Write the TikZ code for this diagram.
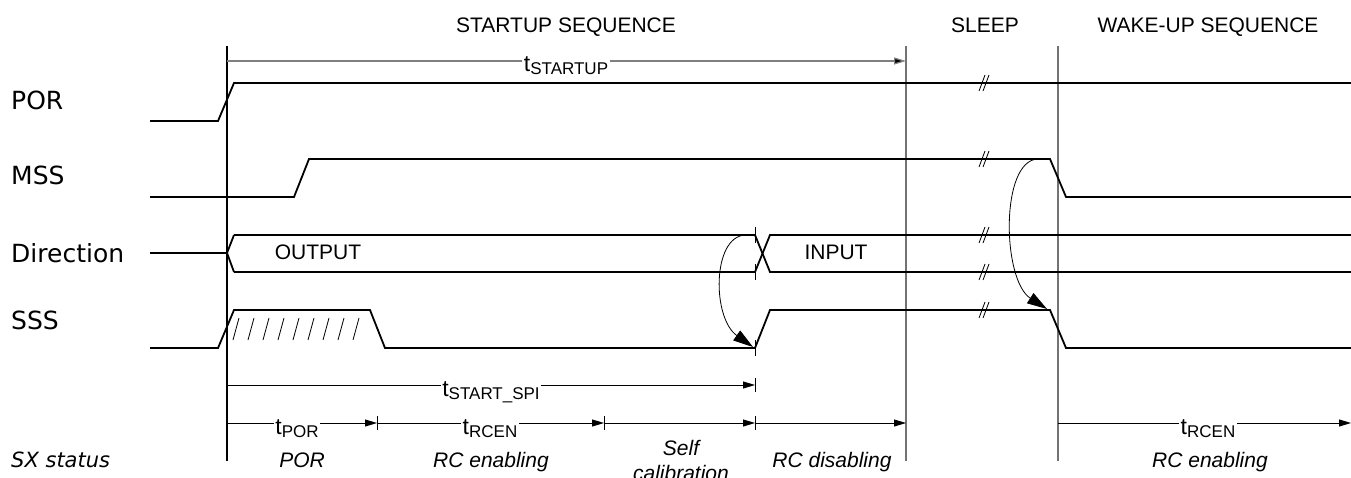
\documentclass[tikz,border=0pt]{standalone}
\usepackage{fontspec}
\setmainfont{Liberation Sans}
\newfontfamily\dvfont{DejaVu Sans}
\usetikzlibrary{arrows.meta}
\newcommand{\tlab}[1]{{\fontsize{23}{23}\selectfont t}\raisebox{-3pt}{\fontsize{17}{17}\selectfont #1}}
\begin{document}
\begin{tikzpicture}[x=1pt,y=-1pt,
  sig/.style={line width=1.8pt, line join=miter},
  marker/.style={line width=1.5pt, draw=gray!90!black},
  vmark/.style={line width=1.5pt, draw=black},
  dim/.style={line width=0.9pt, -{Triangle[length=12pt,width=7pt]}},
  graydim/.style={line width=1.2pt, draw=gray, -{Triangle[length=12pt,width=7pt,fill=black]}},
  tickm/.style={line width=0.9pt},
  brkm/.style={line width=0.8pt},
  curvarrow/.style={line width=0.8pt, -{Triangle[length=20pt,width=12pt]}},
  siglab/.style={anchor=base west, font=\dvfont\fontsize{25}{30}\selectfont, inner sep=0pt},
  head/.style={anchor=base, font=\fontsize{21}{25}\selectfont, inner sep=0pt},
  buslab/.style={anchor=base, font=\fontsize{21}{25}\selectfont, inner sep=0pt},
  stat/.style={anchor=base, font=\itshape\fontsize{21}{25}\selectfont, inner sep=0pt},
  tl/.style={anchor=base, fill=white, inner sep=1.5pt}
]
\useasboundingbox (0,0) rectangle (1351,478);

% headings
\node[head] (hstart) at (566,33) {STARTUP SEQUENCE};
\node[head] (hsleep) at (985,33) {SLEEP};
\node[head] (hwake) at (1208,33) {WAKE-UP SEQUENCE};

% signal labels
\node[siglab] (lpor) at (11,110) {POR};
\node[siglab] (lmss) at (11,185) {MSS};
\node[siglab] (ldir) at (11,262) {Direction};
\node[siglab] (lsss) at (11,329) {SSS};
\node[anchor=base west, font=\dvfont\itshape\fontsize{21}{25}\selectfont, inner sep=0pt] (lsx) at (11,467) {SX status};

% vertical markers
\draw[vmark] (227,46) -- (227,461);
\draw[marker] (906,46) -- (906,461);
\draw[marker] (1058,46) -- (1058,461);

% t_STARTUP
\coordinate (s0) at (227,61);
\coordinate (s1) at (906,61);
\draw[graydim] (s0) -- (s1);
\node[tl] (tstartup) at (566,72) {\tlab{STARTUP}};

% POR
\draw[sig] (150,121) -- (218,121) -- (234,83) -- (1351,83);
% MSS
\draw[sig] (150,197) -- (294,197) -- (309,159) -- (1050,159) -- (1066,197) -- (1351,197);
% Direction
\draw[sig] (150,253) -- (227,253);
\draw[sig] (234,235) -- (227,253) -- (234,272);
\draw[sig] (234,235) -- (755,235) -- (770,272) -- (1351,272);
\draw[sig] (234,272) -- (755,272) -- (770,235) -- (1351,235);
\node[buslab] (outp) at (318,260) {OUTPUT};
\node[buslab] (inp) at (836,260) {INPUT};
% SSS
\draw[sig] (150,348) -- (218,348) -- (234,310) -- (370,310) -- (385,348) -- (755,348) -- (770,310) -- (1050,310) -- (1066,348) -- (1351,348);
% hatch
\foreach \k in {0,...,8} {
  \draw[line width=0.8pt] ({233+15*\k},340) -- ({239+15*\k},318);
}

% ticks at 755
\foreach \yy in {235,272,348} {
  \draw[tickm] (755,\yy-8) -- (755,\yy+8);
}

% break marks
\foreach \yy in {83,159,235,272,310} {
  \draw[brkm] (979,\yy+8) -- (985,\yy-8);
  \draw[brkm] (983,\yy+8) -- (989,\yy-8);
}

% curved arrows
\coordinate (c1a) at (745,235);
\coordinate (c1b) at (753,347);
\draw[curvarrow] (c1a) .. controls (712,237) and (712,318) .. (c1b);
\coordinate (c2a) at (1038,159);
\coordinate (c2b) at (1047,309);
\draw[curvarrow] (c2a) .. controls (1000,160) and (1002,280) .. (c2b);

% t_START_SPI
\coordinate (p0) at (227,385);
\coordinate (p1) at (755,385);
\draw[dim] (p0) -- (p1);
\draw[tickm] (755,378) -- (755,392);
\node[tl] (tspi) at (491,396) {\tlab{START\_SPI}};

% timing row
\coordinate (r0) at (227,423);
\coordinate (r1) at (377,423);
\coordinate (r2) at (604,423);
\coordinate (r3) at (755,423);
\coordinate (r4) at (906,423);
\coordinate (r5) at (1058,423);
\coordinate (r6) at (1351,423);
\draw[dim] (r0) -- (r1);
\draw[dim] (r1) -- (r2);
\draw[dim] (r2) -- (r3);
\draw[dim] (r3) -- (r4);
\draw[dim] (r5) -- (r6);
\foreach \xx in {377,604,755} {
  \draw[tickm] (\xx,416) -- (\xx,430);
}
\node[tl] (tpor) at (297,434) {\tlab{POR}};
\node[tl] (trcen) at (490,434) {\tlab{RCEN}};
\node[tl] (trcen2) at (1208,434) {\tlab{RCEN}};

% status labels
\node[stat] (spor) at (302,467) {POR};
\node[stat] (srce) at (491,467) {RC enabling};
\node[stat] (sself) at (681,455) {Self};
\node[stat] (scal) at (681,480) {calibration};
\node[stat] (srcd) at (832,467) {RC disabling};
\node[stat] (srce2) at (1210,467) {RC enabling};
\end{tikzpicture}
\end{document}
